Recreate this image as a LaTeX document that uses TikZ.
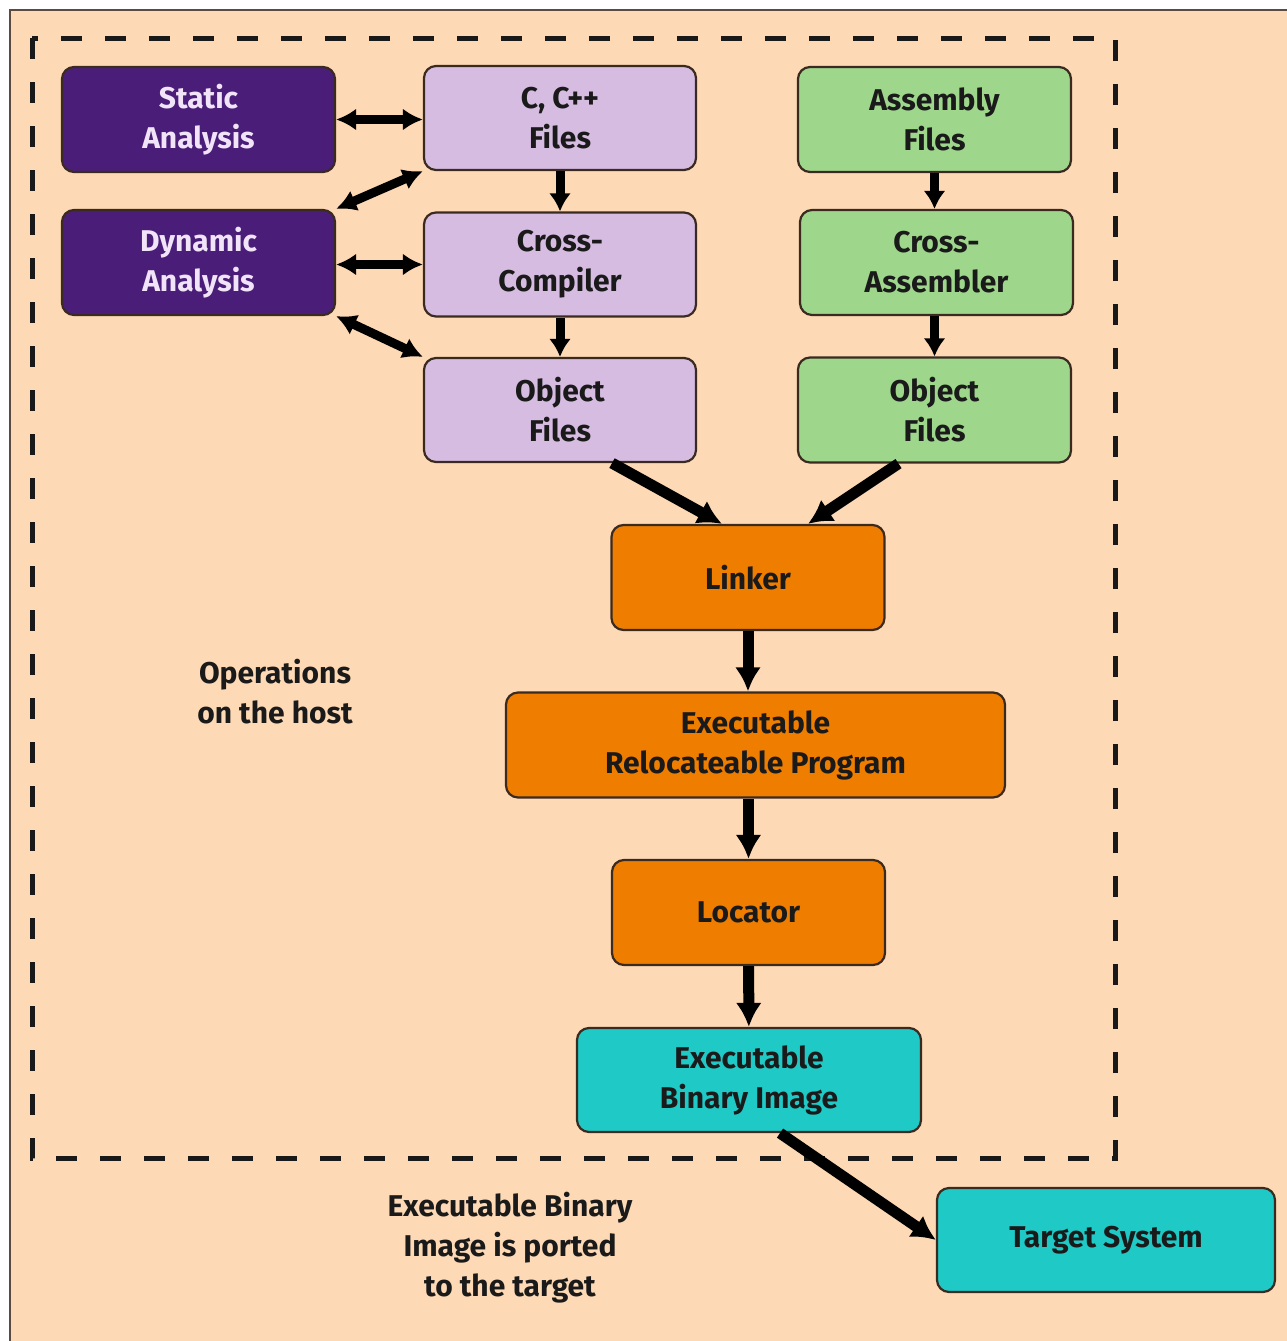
\documentclass[tikz,border=0pt]{standalone}
\usepackage{fontspec}
\setmainfont{Fira Sans}
\usetikzlibrary{arrows.meta,calc}
\definecolor{bg}{HTML}{FDD9B5}
\definecolor{frame}{HTML}{5A4A40}
\definecolor{edgec}{HTML}{3A2A20}
\definecolor{purp}{HTML}{4A1E78}
\definecolor{purptext}{HTML}{F2E4F8}
\definecolor{lav}{HTML}{D7BCE2}
\definecolor{grn}{HTML}{9ED68C}
\definecolor{org}{HTML}{EE7D00}
\definecolor{cyn}{HTML}{1EC9C6}
\definecolor{txt}{HTML}{1A1A1A}
\tikzset{
  box/.style={draw=edgec, line width=2.2pt, rounded corners=12pt, align=center,
    text=txt, font=\fontsize{30}{40}\selectfont\bfseries, inner sep=0pt},
  purpbox/.style={box, fill=purp, text=purptext, minimum width=273pt, minimum height=105pt},
  lavbox/.style={box, fill=lav, minimum width=272pt, minimum height=104pt},
  grnbox/.style={box, fill=grn, minimum width=273pt, minimum height=105pt},
  orgbox/.style={box, fill=org, minimum width=273pt, minimum height=105pt},
  cynbox/.style={box, fill=cyn, minimum height=104pt},
  label/.style={align=center, text=txt, font=\fontsize{30}{40}\selectfont\bfseries},
  dbl/.style={line width=9pt, {Latex[length=20pt,width=22pt]}-{Latex[length=20pt,width=22pt]}},
  arr/.style={line width=9pt, -{Latex[length=18pt,width=22pt]}},
  big/.style={line width=11pt, -{Latex[length=24pt,width=26pt]}},
  hostframe/.style={draw=black!90, line width=5pt, dash pattern=on 21pt off 23pt}
}
\begin{document}
\begin{tikzpicture}[x=1pt,y=-1pt]
\useasboundingbox (0,0) rectangle (1287,1341);
\fill[white] (0,0) rectangle (1287,1341);
\fill[bg] (10,10) rectangle (1287,1341);
\draw[frame, line width=2.5pt] (10,1341) -- (10,10) -- (1287,10);
\draw[hostframe] (32,38) rectangle (1115,1158);

\node[purpbox] (sa) at (198.5,119.5) {Static\\Analysis};
\node[purpbox] (da) at (198.5,262.5) {Dynamic\\Analysis};
\node[lavbox] (cf) at (560,118) {C, C++\\Files};
\node[lavbox] (cc) at (560,264.5) {Cross-\\Compiler};
\node[lavbox] (ol) at (560,410) {Object\\Files};
\node[grnbox] (af) at (934.5,119.5) {Assembly\\Files};
\node[grnbox] (ca) at (936.5,262.5) {Cross-\\Assembler};
\node[grnbox] (orr) at (934.5,410) {Object\\Files};
\node[orgbox] (lk) at (748,577.5) {Linker};
\node[orgbox, minimum width=499pt] (erp) at (755.5,745) {Executable\\Relocateable Program};
\node[orgbox] (loc) at (748.5,912.5) {Locator};
\node[cynbox, minimum width=344pt] (ebi) at (749,1080) {Executable\\Binary Image};
\node[cynbox, minimum width=338pt] (ts) at (1106,1240) {Target System};

\node[label] (ops) at (275,692) {Operations\\on the host};
\node[label] (port) at (510,1248) {Executable Binary\\Image is ported\\to the target};

\draw[dbl] (sa.east) -- (sa.east -| cf.west);
\draw[dbl] (cf.south west) -- (da.north east);
\draw[dbl] (da.east |- cc.west) -- (cc.west);
\draw[dbl] (da.south east) -- (ol.north west);
\draw[arr] (cf) -- (cc);
\draw[arr] (cc) -- (ol);
\draw[arr] (af.south) -- (af.south |- ca.north);
\draw[arr] (ca.south -| orr.north) -- (orr.north);
\draw[big] ($(ol.south)+(52,0)$) -- ($(lk.north)+(-26,0)$);
\draw[big] ($(orr.south)+(-36,0)$) -- ($(lk.north)+(60,0)$);
\draw[big] (lk.south) -- (lk.south |- erp.north);
\draw[big] (loc.north |- erp.south) -- (loc.north);
\draw[big] (loc) -- (ebi);
\draw[big] ($(ebi.south)+(31,0)$) -- (ts.west);
\end{tikzpicture}
\end{document}
